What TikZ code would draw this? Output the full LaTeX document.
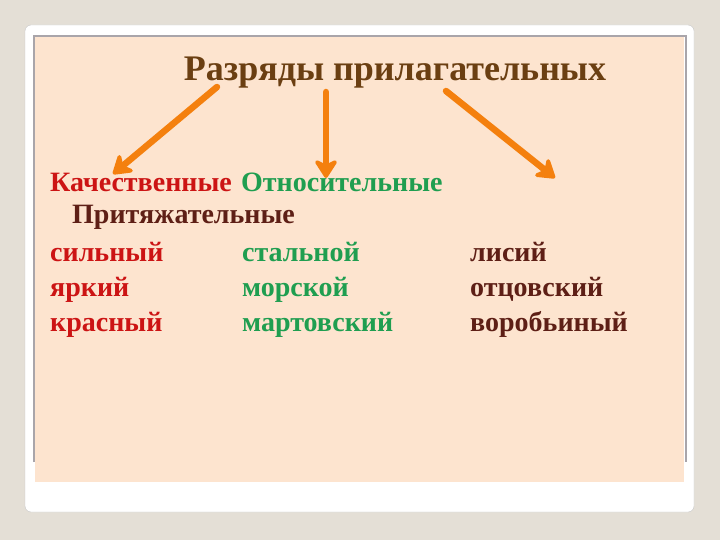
\documentclass[tikz,border=0pt]{standalone}
\usepackage{fontspec}
\setmainfont{Liberation Serif}
\usetikzlibrary{arrows.meta}
\definecolor{bg}{HTML}{E4DFD6}
\definecolor{peach}{HTML}{FDE4CF}
\definecolor{frameg}{HTML}{A9A5AA}
\definecolor{ttl}{HTML}{6B3F12}
\definecolor{qred}{HTML}{CC1414}
\definecolor{qgreen}{HTML}{1F9E50}
\definecolor{qbrown}{HTML}{5E1F16}
\definecolor{arr}{HTML}{F4800E}
\begin{document}
\begin{tikzpicture}[x=1pt,y=-1pt,
  txt/.style={anchor=base west, inner sep=0pt, font=\fontsize{28}{31}\selectfont\bfseries},
  arrow/.style={draw=arr, line width=6.5pt, line cap=round, -{Stealth[length=22pt,width=28pt,inset=7pt,round]}}]
\fill[bg] (0,0) rectangle (720,540);
\useasboundingbox (0,0) rectangle (720,540);
\draw[draw=black!22, fill=white, rounded corners=6pt] (25,25) rectangle (694,512);
\fill[peach] (35,37) rectangle (684,482);
\draw[frameg, line width=2.5pt] (34,462) -- (34,36) -- (686,36) -- (686,462);
\node[anchor=base, inner sep=0pt, font=\fontsize{36}{40}\selectfont\bfseries, text=ttl] (title) at (395,81) {Разряды прилагательных};
\node[txt, text=qred] (kach) at (50,192) {Качественные};
\node[txt, text=qgreen] (otn) at (241,192) {Относительные};
\node[txt, text=qbrown] (prit) at (72,223) {Притяжательные};
\node[txt, text=qred] (r1) at (50,261) {сильный};
\node[txt, text=qred] (r2) at (50,296) {яркий};
\node[txt, text=qred] (r3) at (50,331) {красный};
\node[txt, text=qgreen] (g1) at (242,261) {стальной};
\node[txt, text=qgreen] (g2) at (242,296) {морской};
\node[txt, text=qgreen] (g3) at (242,331) {мартовский};
\node[txt, text=qbrown] (b1) at (470,261) {лисий};
\node[txt, text=qbrown] (b2) at (470,296) {отцовский};
\node[txt, text=qbrown] (b3) at (470,331) {воробьиный};
\coordinate (s1) at (217,87);
\coordinate (e1) at (113,174);
\coordinate (s2) at (326,92);
\coordinate (e2) at (326,178);
\coordinate (s3) at (446,91);
\coordinate (e3) at (555,178);
\draw[arrow] (s1) -- (e1);
\draw[arrow] (s2) -- (e2);
\draw[arrow] (s3) -- (e3);
\end{tikzpicture}
\end{document}
